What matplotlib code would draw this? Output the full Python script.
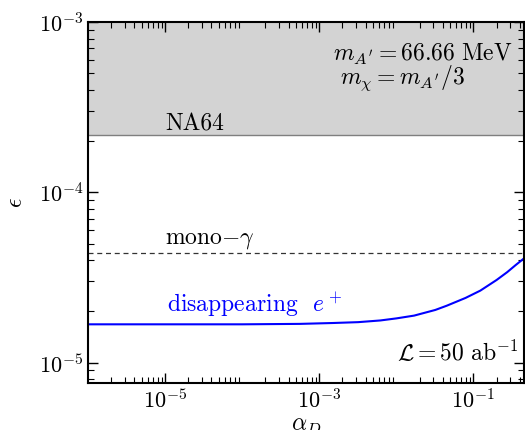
import matplotlib
matplotlib.use('Agg')
import matplotlib.pyplot as plt

plt.rcParams['font.family'] = 'serif'
plt.rcParams['font.serif'] = ['cmr10']
plt.rcParams['mathtext.fontset'] = 'cm'
plt.rcParams['axes.formatter.use_mathtext'] = True

# disappearing e+ sensitivity curve (alpha_D, epsilon)
alpha_d = [1e-6, 1e-5, 1e-4, 5.6e-4, 1.5e-3, 3.2e-3, 6.2e-3, 1.0e-2, 1.7e-2, 3.2e-2,
           4.5e-2, 7.9e-2, 0.123, 0.2, 0.274, 0.355, 0.473]
eps_disappearing = [1.68e-5, 1.68e-5, 1.68e-5, 1.69e-5, 1.71e-5, 1.73e-5, 1.77e-5, 1.82e-5,
                    1.89e-5, 2.04e-5, 2.16e-5, 2.40e-5, 2.65e-5, 3.06e-5, 3.40e-5, 3.75e-5,
                    4.16e-5]

eps_na64 = 2.16e-4
eps_mono_gamma = 4.42e-5

xlim = (1e-6, 0.453)
ylim = (7.6e-6, 1e-3)

fig = plt.figure(figsize=(5.25, 4.3), dpi=100)
ax = fig.add_axes([0.1676, 0.1093, 0.8305, 0.8395])
ax.set_xscale('log')
ax.set_yscale('log')

ax.fill_between(xlim, eps_na64, ylim[1], color='#d3d3d3', lw=0, zorder=1)
ax.axhline(eps_na64, color='#7f7f7f', lw=1.0, zorder=2)
ax.axhline(eps_mono_gamma, color='#333333', lw=0.9, ls=(0, (4, 3)), zorder=2)
ax.plot(alpha_d, eps_disappearing, color='blue', lw=1.5, zorder=3)

fs = 17
ax.text(1e-5, 2.32e-4, 'NA64', fontsize=fs, va='baseline')
ax.text(1e-5, 5.0e-5, r'mono$-\gamma$', fontsize=fs, va='baseline')
ax.text(1.05e-5, 2.0e-5, r'disappearing  $e^+$', fontsize=fs, va='baseline', color='blue')
ax.text(0.32, 5.9e-4, r"$m_{A'} = 66.66\ \mathrm{MeV}$", fontsize=fs, va='baseline', ha='right')
ax.text(1.85e-3, 4.3e-4, r"$m_{\chi} = m_{A'}/3$", fontsize=fs, va='baseline', ha='left')
ax.text(0.385, 1.03e-5, r'$\mathcal{L} = 50\ \mathrm{ab}^{-1}$', fontsize=fs, va='baseline', ha='right')

ax.set_xlim(*xlim)
ax.set_ylim(*ylim)
ax.set_xticks([1e-5, 1e-3, 1e-1])
ax.set_xlabel(r'$\alpha_D$', fontsize=fs, labelpad=2)
ax.set_ylabel(r'$\epsilon$', fontsize=fs, labelpad=8)

ax.tick_params(which='both', direction='in', top=True, right=True, labelsize=16)
ax.tick_params(which='major', length=7, width=1.0)
ax.tick_params(which='minor', length=4, width=0.8)
for s in ax.spines.values():
    s.set_linewidth(1.5)
    s.set_zorder(4)

fig.savefig('out.png', dpi=100)
